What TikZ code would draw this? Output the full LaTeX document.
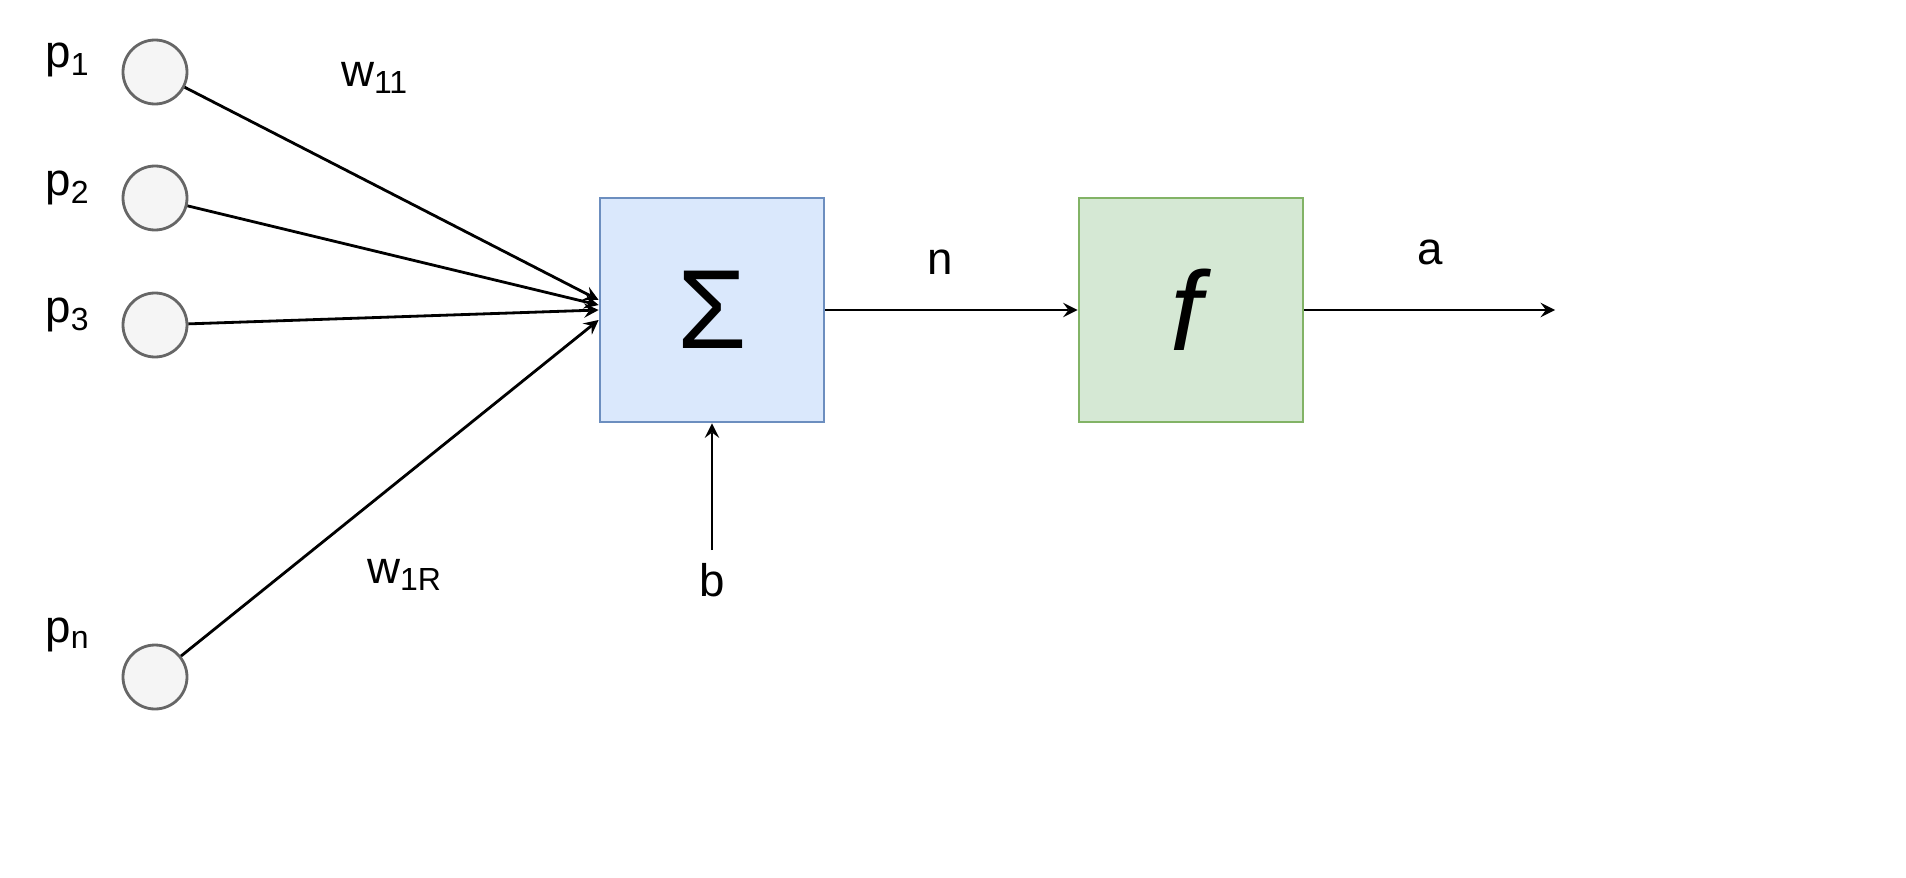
\documentclass[tikz,border=0pt]{standalone}
\usepackage{fontspec}
\setmainfont{Liberation Sans}
\usetikzlibrary{arrows}
\definecolor{sumfill}{HTML}{DAE8FC}
\definecolor{sumdraw}{HTML}{6C8EBF}
\definecolor{actfill}{HTML}{D5E8D4}
\definecolor{actdraw}{HTML}{82B366}
\definecolor{infill}{HTML}{F5F5F5}
\definecolor{indraw}{HTML}{666666}
\begin{document}
\begin{tikzpicture} [->,>=stealth,thick,
    font=\fontsize{13}{15}\selectfont,
    input node/.style={circle,fill=infill,draw=indraw,minimum size=0.64cm,inner sep=0pt},
    sum node/.style={rectangle,fill=sumfill,draw=sumdraw,minimum size=2.24cm},
    act node/.style={rectangle,fill=actfill,draw=actdraw,minimum size=2.24cm}]

  \useasboundingbox (0,0) rectangle (19.06,8.77);

  % inputs
  \node [input node] (p_1) at (1.55,8.05) {};
  \node [input node] (p_2) at (1.55,6.79) {};
  \node [input node] (p_3) at (1.55,5.52) {};
  \node [input node] (p_n) at (1.55,2.00) {};

  \node at (0.68,8.17) {p\textsubscript{1}};
  \node at (0.68,6.89) {p\textsubscript{2}};
  \node at (0.68,5.62) {p\textsubscript{3}};
  \node at (0.68,2.42) {p\textsubscript{n}};

  % neuron
  \node [sum node] (sum) at (7.12,5.67) {\fontsize{32}{34}\selectfont Σ};
  \node [act node] (act) at (11.91,5.67) {\fontsize{32}{34}\selectfont\textit{f}};

  \coordinate (bias) at (7.12,3.27);
  \coordinate (out) at (15.55,5.67);

  \node at (3.75,7.99) {w\textsubscript{11}};
  \node at (4.05,3.02) {w\textsubscript{1R}};
  \node at (7.12,2.97) {b};
  \node at (9.40,6.15) {n};
  \node at (14.30,6.25) {a};

  % connectors
  \draw[->] (p_1) to ([yshift=1mm]sum.west);
  \draw[->] (p_2) to ([yshift=0.5mm]sum.west);
  \draw[->] (p_3) to (sum.west);
  \draw[->] (p_n) to ([yshift=-1mm]sum.west);
  \draw[->] (bias) to (sum);
  \draw[->] (sum) to (act);
  \draw[->] (act) to (out);

\end{tikzpicture}
\end{document}
